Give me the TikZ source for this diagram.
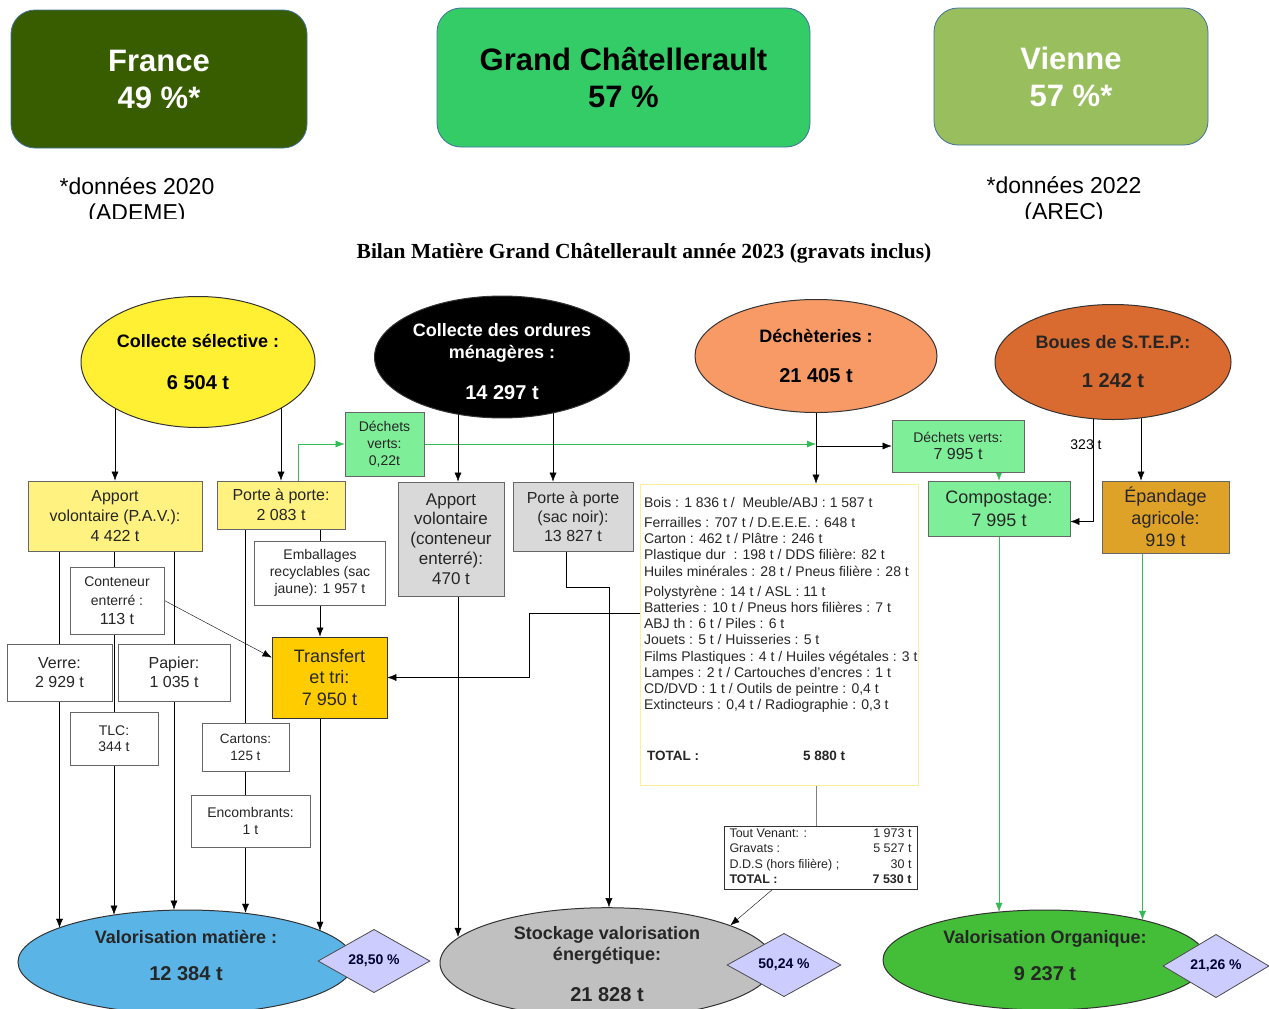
\documentclass[tikz,border=0pt]{standalone}
\usepackage{fontspec}
\setmainfont{Liberation Sans}
\newfontfamily\titrefont{Liberation Serif}
\usetikzlibrary{shapes.geometric,backgrounds,arrows.meta}
\definecolor{vertfonce}{HTML}{385C00}
\definecolor{vertvif}{HTML}{33CC66}
\definecolor{vertolive}{HTML}{99BE5E}
\definecolor{jaunesel}{HTML}{FFF033}
\definecolor{saumon}{HTML}{F79A66}
\definecolor{rouille}{HTML}{D96A30}
\definecolor{bleuval}{HTML}{5BB4E6}
\definecolor{grisstock}{HTML}{C0C0C0}
\definecolor{vertorga}{HTML}{44BE38}
\definecolor{lavande}{HTML}{CCCCFF}
\definecolor{jaunepale}{HTML}{FFF280}
\definecolor{vertclair}{HTML}{7FEE99}
\definecolor{grisclair}{HTML}{D9D9D9}
\definecolor{ocre}{HTML}{DEA228}
\definecolor{jaunetri}{HTML}{FFCC00}
\definecolor{jauneliste}{HTML}{FFEE99}
\definecolor{traitvert}{HTML}{33BB55}
\definecolor{bordbleu}{HTML}{41719C}

\begin{document}
\begin{tikzpicture}[x=1pt, y=-1pt, >={Latex[length=9pt,width=7pt]}, line width=0.9pt]
\tikzstyle{every node}=[inner sep=0pt, text=black!85]
\tikzstyle{pourcent}=[rectangle, rounded corners=24pt, draw=bordbleu, line width=0.8pt, align=center, font=\fontsize{31}{37}\selectfont\bfseries]
\tikzstyle{note}=[align=center, text=black, font=\fontsize{23}{26}\selectfont]
\tikzstyle{source}=[ellipse, draw=black!80, line width=1pt, align=center, font=\fontsize{18}{22}\selectfont\bfseries]
\tikzstyle{boite}=[rectangle, draw=black!60, line width=0.8pt, align=center, font=\fontsize{16}{20}\selectfont]
\tikzstyle{petit}=[font=\fontsize{14}{17}\selectfont]
\tikzstyle{taux}=[diamond, draw=black!70, line width=0.8pt, fill=lavande, font=\fontsize{14}{16}\selectfont\bfseries, text=blue!20!black]
\tikzstyle{vert}=[draw=traitvert]
\useasboundingbox (0,0) rectangle (1269,1009);

% taux de valorisation
\node[pourcent, fill=vertfonce, text=white, minimum width=296, minimum height=138] (france) at (159,79) {France\\49 \%*};
\node[pourcent, fill=vertvif, text=black, minimum width=373, minimum height=139] (gc) at (623.5,77.5) {Grand Châtellerault\\57 \%};
\node[pourcent, fill=vertolive, text=white, minimum width=274, minimum height=137] (vienne) at (1071,76.5) {Vienne\\57 \%*};
\begin{scope}
\clip (0,160) rectangle (1269,218);
\node[note] (noteademe) at (137,201) {*données 2020\\(ADEME)};
\node[note] (notearec) at (1064,200) {*données 2022\\(AREC)};
\end{scope}
\node[font=\titrefont\fontsize{21.5}{25}\selectfont\bfseries, text=black] (titre) at (644,253) {Bilan Matière Grand Châtellerault année 2023 (gravats inclus)};

% gisements
\node[source, fill=jaunesel, text=black, minimum width=234, minimum height=131] (sel) at (198,362) {Collecte sélective :\\[20pt]{\fontsize{20}{24}\selectfont 6 504 t}};
\node[source, fill=black, text=white, minimum width=255, minimum height=121] (om) at (502,357) {\mbox{}\\[1pt]Collecte des ordures\\ménagères :\\[19pt]{\fontsize{20}{24}\selectfont 14 297 t}};
\node[source, fill=saumon, text=black, minimum width=242, minimum height=113] (dech) at (816,356) {Déchèteries :\\[18pt]{\fontsize{20}{24}\selectfont 21 405 t}};
\node[source, fill=rouille, minimum width=236, minimum height=115] (boues) at (1113,362) {Boues de S.T.E.P.:\\[17pt]{\fontsize{20}{24}\selectfont 1 242 t}};

% destinations
\node[source, fill=bleuval, minimum width=336, minimum height=104] (valm) at (186,962) {Valorisation matière :\\[15pt]{\fontsize{20}{24}\selectfont 12 384 t}\\[-8pt]\mbox{}};
\node[source, fill=grisstock, font=\fontsize{18}{21}\selectfont\bfseries, minimum width=334, minimum height=110] (stock) at (607,963) {\mbox{}\\[-5pt]Stockage valorisation\\énergétique:\\[20pt]{\fontsize{20}{24}\selectfont 21 828 t}};
\node[source, fill=vertorga, minimum width=324, minimum height=100] (valo) at (1045,960) {Valorisation Organique:\\[15pt]{\fontsize{20}{24}\selectfont 9 237 t}\\[-12pt]\mbox{}};
\node[taux, minimum width=112, minimum height=62] (tm) at (374,961) {28,50 \%};
\node[taux, minimum width=114, minimum height=58] (ts) at (784,965) {50,24 \%};
\node[taux, minimum width=106, minimum height=58] (to) at (1216,966) {21,26 \%};

% flux intermediaires
\node[boite, fill=jaunepale, minimum width=174, minimum height=70] (pav) at (115,516) {Apport\\volontaire (P.A.V.):\\4 422 t};
\node[boite, fill=jaunepale, minimum width=128, minimum height=48] (pap) at (281,505) {Porte à porte:\\2 083 t};
\node[boite, petit, fill=vertclair, minimum width=79, minimum height=64] (dv1) at (384.5,444) {Déchets\\verts:\\0,22t};
\node[boite, fill=grisclair, font=\fontsize{17}{19.8}\selectfont, minimum width=106, minimum height=114] (avce) at (451,539) {Apport\\volontaire\\(conteneur\\enterré):\\470 t};
\node[boite, fill=grisclair, font=\fontsize{16}{19}\selectfont, minimum width=120, minimum height=69] (papn) at (573,516.5) {Porte à porte\\(sac noir):\\13 827 t};
\node[boite, petit, fill=vertclair, minimum width=132, minimum height=52] (dv2) at (958,446) {Déchets verts:\\{\fontsize{16}{18}\selectfont 7 995 t}};
\node[boite, fill=vertclair, font=\fontsize{18}{23}\selectfont, minimum width=142, minimum height=55] (comp) at (999,508.5) {Compostage:\\7 995 t};
\node[boite, fill=ocre, font=\fontsize{18}{22}\selectfont, minimum width=127, minimum height=72] (epan) at (1165.5,517) {Épandage\\agricole:\\919 t};
\node[boite, petit, fill=white, minimum width=131, minimum height=64] (emb) at (320,573) {Emballages\\recyclables (sac\\jaune): 1 957 t};
\node[boite, fill=white, font=\fontsize{14}{19}\selectfont, minimum width=94, minimum height=67] (cont) at (117,600.5) {Conteneur\\enterré :\\{\fontsize{16}{19}\selectfont 113 t}};
\node[boite, fill=white, font=\fontsize{16}{19}\selectfont, minimum width=105, minimum height=57] (verre) at (59.5,672.5) {Verre:\\2 929 t};
\node[boite, fill=white, font=\fontsize{16}{19}\selectfont, minimum width=112, minimum height=57] (papier) at (174,672.5) {Papier:\\1 035 t};
\node[boite, fill=white, font=\fontsize{14}{16}\selectfont, minimum width=88, minimum height=53] (tlc) at (114,738.5) {TLC:\\344 t};
\node[boite, fill=jaunetri, draw=black!80, font=\fontsize{18}{21.5}\selectfont, minimum width=115, minimum height=81] (trans) at (329.5,677.5) {Transfert\\et tri:\\7 950 t};
\node[boite, fill=white, font=\fontsize{13.5}{17}\selectfont, minimum width=87, minimum height=48] (cart) at (245.5,747) {Cartons:\\125 t};
\node[boite, petit, fill=white, minimum width=119, minimum height=52] (enc) at (250.5,821) {Encombrants:\\1 t};

% detail des decheteries
\node[boite, draw=jauneliste, fill=white, minimum width=278, minimum height=301] (liste) at (779,634.5) {};
\node[anchor=north west, align=left, font=\fontsize{14}{16.2}\selectfont] (detail) at ([xshift=4,yshift=-13]liste.north west) {Bois : 1 836 t /~ Meuble/ABJ : 1 587 t\\[4pt]
Ferrailles : 707 t / D.E.E.E. : 648 t\\
Carton : 462 t / Plâtre : 246 t\\
Plastique dur~ : 198 t / DDS filière: 82 t\\
Huiles minérales : 28 t / Pneus filière : 28 t\\[4pt]
Polystyrène : 14 t / ASL : 11 t\\
Batteries : 10 t / Pneus hors filières : 7 t\\
ABJ th : 6 t / Piles : 6 t\\
Jouets : 5 t / Huisseries : 5 t\\
Films Plastiques : 4 t / Huiles végétales : 3 t\\
Lampes : 2 t / Cartouches d’encres : 1 t\\
CD/DVD : 1 t / Outils de peintre : 0,4 t\\
Extincteurs : 0,4 t / Radiographie : 0,3 t};
\node[anchor=west, font=\fontsize{13.5}{16}\selectfont\bfseries] (total) at ([xshift=7,yshift=-272]liste.north west) {TOTAL :};
\node[anchor=west, font=\fontsize{13.5}{16}\selectfont\bfseries] (totalval) at ([xshift=156]total.west) {5 880 t};
\node[boite, draw=black!80, fill=white, font=\fontsize{12.5}{15.2}\selectfont, minimum width=193, minimum height=63] (tv) at (820.5,857.5) {\begin{tabular*}{182pt}{@{}l@{\extracolsep{\fill}}r@{}}
Tout Venant: : & 1 973 t\\
Gravats : & 5 527 t\\
D.D.S (hors filière) ; & 30 t\\
\textbf{TOTAL :} & \textbf{7 530 t}
\end{tabular*}};

% points de passage des flux
\coordinate (avce haut) at ([xshift=7]avce.north);
\coordinate (avce bas) at ([xshift=7]avce.south);
\coordinate (papn haut) at ([xshift=-20]papn.north);
\coordinate (papn bas) at ([xshift=-7]papn.south);
\coordinate (pap vert) at ([xshift=17]pap.north);
\coordinate (boues g) at ([xshift=-20]boues.center);
\coordinate (boues d) at ([xshift=28]boues.center);
\coordinate (epan bas) at ([xshift=-23]epan.south);
\coordinate (liste g) at ([yshift=-130]liste.north west);
\coordinate (tv bas) at ([xshift=-48]tv.south);

\begin{pgfonlayer}{background}
\draw[->] (pav |- sel) -- (pav.north);
\draw[->] (pap.north |- sel) -- (pap.north);
\draw[vert,->] (pap vert) |- (dv1.west);
\draw[vert,->] (dv1.east) -- (dv1.east -| dech);
\draw[->] (avce haut |- om) -- (avce haut);
\draw[->] (papn haut |- om) -- (papn haut);
\draw[->] (dech) -- (dech |- liste.north);
\draw[->] (dech |- dv2) -- (dv2.west);
\draw[vert,->] (comp.north |- dv2.south) -- (comp.north);
\draw[->] (boues g) |- ([yshift=-13]comp.east) node[petit, pos=.26, xshift=-7, text=black] (l323) {323 t};
\draw[->] (boues d) -- (boues d |- epan.north);
\draw[vert,->] (comp.south) -- (comp.south |- valo.135);
\draw[vert,->] (epan bas) -- (epan bas |- valo.22);
\draw[->] (verre |- pav.south) -- (verre |- valm.165);
\draw[->] (tlc |- pav.south) -- (tlc |- valm.147);
\draw[->] (papier |- pav.south) -- (papier |- valm.101);
\draw[->] (cart |- pap.south) -- (cart |- valm.40);
\draw (emb |- pap.south) -- (emb.north);
\draw[->] (emb.south) -- (emb |- trans.north);
\draw[->] (emb |- trans.south) -- (emb |- valm.13);
\draw[->] (cont.east) -- ([yshift=20]trans.west);
\draw[->] (liste g) -- ++(-110,0) |- (trans.east);
\draw[->] (avce bas) -- (avce bas |- stock.170);
\draw[->] (papn bas) -- ++(0,36) -| (stock.88);
\draw[draw=black!50] (dech |- liste.south) -- (dech |- tv.north);
\draw[->] (tv bas) -- (stock.17);
\end{pgfonlayer}
\end{tikzpicture}
\end{document}
